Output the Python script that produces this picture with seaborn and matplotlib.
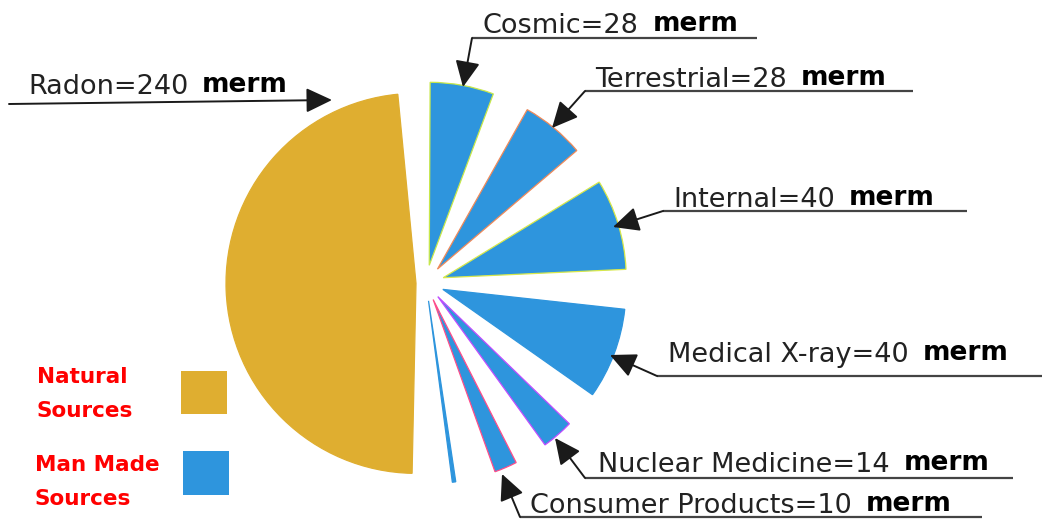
import matplotlib
matplotlib.use("Agg")
import matplotlib.pyplot as plt
import seaborn as sns
from matplotlib.patches import Rectangle

# ---------------- data (counter-clockwise order, starting with Radon) -------------
sources = ["Radon", "Other", "Consumer Products", "Nuclear Medicine",
           "Medical X-ray", "Internal", "Terrestrial", "Cosmic"]
doses = [240, 1.5, 10, 14, 40, 40, 28, 28]          # merm
drawn_group = ["Natural", "Man Made", "Man Made", "Man Made",
               "Man Made", "Man Made", "Man Made", "Man Made"]   # colour as drawn
unit = "merm"
legend_groups = ["Natural", "Man Made"]
legend_lines = [["Natural", "Sources"], ["Man Made", "Sources"]]

# ---------------- style --------------------------------------------------------------
W, H = 1042, 519
sns.set_theme(style="white")
plt.rcParams["font.family"] = ["DejaVu Sans"]
palette = {"Natural": "#DFAE30", "Man Made": "#2E95DD"}
edge_cols = {"Radon": "#DFAE30", "Other": "#2E95DD", "Consumer Products": "#FF4D8A",
             "Nuclear Medicine": "#C04DFF", "Medical X-ray": "#2E95DD",
             "Internal": "#D8E84A", "Terrestrial": "#F08A5A", "Cosmic": "#C8E84A"}
# invisible spacer after each wedge (same units as doses)
gaps = [12.0, 15.5, 12.3, 12.3, 12.3, 12.3, 12.3, 8.0]
RADIUS = 183
CENTER = (426, 519 - 283)
explode_px = {"Radon": 10}
radius_px = {"Radon": 190}

def P(x, y):
    """pixel position (from top-left) -> data coords"""
    return (x, H - y)

fig = plt.figure(figsize=(W / 100, H / 100), dpi=100)
ax = fig.add_axes([0, 0, 1, 1])

vals, cols, expl = [], [], []
for name, d, g, gap in zip(sources, doses, drawn_group, gaps):
    vals += [d, gap]
    cols += [palette[g], "none"]
    expl += [explode_px.get(name, 18), 0]

wedges, _ = ax.pie(vals, colors=cols, startangle=95.5, counterclock=True,
                   radius=RADIUS, center=CENTER, explode=expl, frame=False)
for i, w in enumerate(wedges):
    if i % 2:
        w.set_visible(False)
    else:
        name = sources[i // 2]
        w.set_edgecolor(edge_cols[name])
        w.set_linewidth(0.9)
        if name in radius_px:
            w.set_radius(radius_px[name])

ax.set_xlim(0, W)
ax.set_ylim(0, H)
ax.set_aspect("equal")
ax.axis("off")

# ---------------- callouts -----------------------------------------------------------
layout = {
    "Radon":             dict(text=(28, 94),   start=(9, 104),   end=None,       tip=(332, 100)),
    "Cosmic":            dict(text=(483, 33),  start=(472, 38),  end=(757, 38),  tip=(463, 87)),
    "Terrestrial":       dict(text=(595, 87),  start=(585, 91),  end=(913, 91),  tip=(552, 128)),
    "Internal":          dict(text=(673, 207), start=(663, 211), end=(967, 211), tip=(613, 227)),
    "Medical X-ray":     dict(text=(668, 362), start=(657, 376), end=(1042, 376), tip=(610, 355)),
    "Nuclear Medicine":  dict(text=(598, 472), start=(585, 478), end=(1013, 478), tip=(555, 438)),
    "Consumer Products": dict(text=(530, 513), start=(520, 517), end=(982, 517), tip=(502, 474)),
}

for name, dose in zip(sources, doses):
    if name not in layout:
        continue
    L = layout[name]
    t = ax.text(*P(*L["text"]), f"{name}={dose:g}", fontsize=19.5, color="#222222",
                ha="left", va="baseline")
    ax.annotate(unit, xy=(1, 0), xycoords=t, xytext=(10, 1.5), textcoords="offset points",
                fontsize=19, fontweight="bold", color="black", ha="left", va="bottom")
    if L["end"] is not None:
        (x0, y0), (x1, _) = P(*L["start"]), P(*L["end"])
        ax.plot([x0, x1], [y0, y0], color="#444444", lw=1.6, solid_capstyle="butt")
    ax.annotate("", xy=P(*L["tip"]), xytext=P(*L["start"]),
                arrowprops=dict(arrowstyle="-|>,head_length=0.8,head_width=0.38",
                                color="#1a1a1a", lw=1.4, mutation_scale=20,
                                shrinkA=0, shrinkB=0))

# ---------------- legend -------------------------------------------------------------
legend_text_pos = [[(37, 383), (37, 417)], [(35, 471), (35, 505)]]
legend_box = [(181, 371, 46, 43), (183, 451, 46, 44)]
for grp, lines, tpos, (bx, by, bw, bh) in zip(legend_groups, legend_lines,
                                              legend_text_pos, legend_box):
    for line, (tx, ty) in zip(lines, tpos):
        ax.text(*P(tx, ty), line, fontsize=15.5, fontweight="bold", color="#FF0000",
                ha="left", va="baseline")
    ax.add_patch(Rectangle(P(bx, by + bh), bw, bh, facecolor=palette[grp],
                           edgecolor="none"))

fig.savefig("out.png", dpi=100, facecolor="white")
